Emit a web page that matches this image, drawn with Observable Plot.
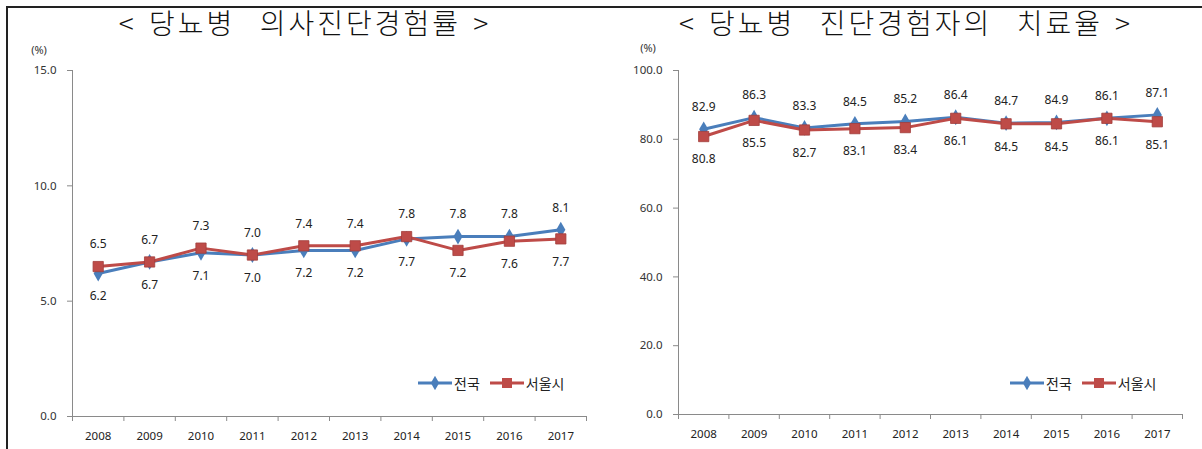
<!DOCTYPE html>
<html>
<head>
<meta charset="utf-8">
<script src="https://cdn.jsdelivr.net/npm/d3@7"></script>
<script src="https://cdn.jsdelivr.net/npm/@observablehq/plot@0.6"></script>
<style>
  html, body { margin: 0; padding: 0; background: #fff; }
  #page { position: relative; width: 1202px; height: 449px; overflow: hidden; font-family: "Noto Sans CJK KR", "Noto Sans", sans-serif; }
  #frame { position: absolute; left: 6px; top: 6px; width: 1200px; height: 450px; border-top: 2px solid #222; border-left: 2px solid #222; box-sizing: border-box; pointer-events: none; }
  .title { position: absolute; top: 2px; transform: translateX(-50%); font-size: 28px; font-weight: 300; letter-spacing: 3px; word-spacing: 3px; color: #111; white-space: pre; font-family: "Noto Sans CJK KR", sans-serif; line-height: 40px; }
  .unit { position: absolute; font-size: 11px; color: #333; transform: translateX(-50%); font-family: "Noto Sans", sans-serif; }
  .panel { position: absolute; top: 0; }
  .legend { position: absolute; display: flex; align-items: center; font-size: 14px; color: #222; font-family: "Noto Sans CJK KR", sans-serif; }
  .legend svg { display: block; margin-right: 2px; }
  .legend span { margin-right: 10px; }
</style>
</head>
<body>
<div id="page">
  <div class="panel" id="left" style="left:0px"></div>
  <div class="panel" id="right" style="left:600px"></div>
  <div class="title" style="left:305px">&lt; 당뇨병  의사진단경험률 &gt;</div>
  <div class="title" style="left:906px">&lt; 당뇨병  진단경험자의  치료율 &gt;</div>
  <div class="unit" style="left:39px; top:42px">(%)</div>
  <div class="unit" style="left:648px; top:40px">(%)</div>
  <div class="legend" id="legL" style="left:418px; top:373px"></div>
  <div class="legend" id="legR" style="left:1010px; top:373px"></div>
  <div id="frame"></div>
</div>
<script>
const years = [2008, 2009, 2010, 2011, 2012, 2013, 2014, 2015, 2016, 2017];
const seriesNames = ["전국", "서울시"];
const seriesColors = ["#4A7EBB", "#BE4B48"];

// 당뇨병 의사진단경험률
const diagNational = [6.2, 6.7, 7.1, 7.0, 7.2, 7.2, 7.7, 7.8, 7.8, 8.1];
const diagSeoul    = [6.5, 6.7, 7.3, 7.0, 7.4, 7.4, 7.8, 7.2, 7.6, 7.7];
const diagTicks    = [0, 5, 10, 15];

// 당뇨병 진단경험자의 치료율
const treatNational = [82.9, 86.3, 83.3, 84.5, 85.2, 86.4, 84.7, 84.9, 86.1, 87.1];
const treatSeoul    = [80.8, 85.5, 82.7, 83.1, 83.4, 86.1, 84.5, 84.5, 86.1, 85.1];
const treatTicks    = [0, 20, 40, 60, 80, 100];

function makeChart(nat, seoul, yTicks, opts) {
  const rows = [];
  years.forEach((yr, i) => {
    rows.push({year: yr, value: nat[i], series: seriesNames[0], above: nat[i] >= seoul[i]});
  });
  years.forEach((yr, i) => {
    rows.push({year: yr, value: seoul[i], series: seriesNames[1], above: seoul[i] > nat[i]});
  });
  const natRows = rows.filter(d => d.series === seriesNames[0]);
  const seoulRows = rows.filter(d => d.series === seriesNames[1]);
  const lo = years[0] - 0.5, hi = years[years.length - 1] + 0.5;
  const bounds = years.map(y => y - 0.5).concat([hi]);
  const yMax = yTicks[yTicks.length - 1];
  return Plot.plot({
    width: opts.width,
    height: 449,
    marginLeft: opts.ml,
    marginRight: opts.mr,
    marginTop: 70,
    marginBottom: opts.mb,
    style: {color: "#333", fontFamily: "'Noto Sans', sans-serif", background: "transparent", overflow: "visible"},
    x: {type: "linear", domain: [lo, hi], axis: null},
    y: {domain: [0, yMax], axis: null},
    color: {domain: seriesNames, range: seriesColors},
    marks: [
      Plot.axisY({ticks: yTicks, tickFormat: d => d.toFixed(1), tickSize: 5, tickPadding: 11, fontSize: 11.5, stroke: "#8a8a8a", label: null}),
      Plot.axisX({ticks: bounds, tickSize: 5, tickFormat: () => "", stroke: "#8a8a8a", label: null}),
      Plot.axisX({ticks: years, tickSize: 0, tickPadding: 15, tickFormat: d => String(d), fontSize: 11.5, fill: "#222", label: null}),
      Plot.ruleY([0], {stroke: "#8a8a8a", strokeWidth: 1}),
      Plot.ruleX([lo], {stroke: "#8a8a8a", strokeWidth: 1}),
      Plot.line(natRows, {x: "year", y: "value", stroke: "series", strokeWidth: 3}),
      Plot.dot(natRows, {x: "year", y: "value", fill: "series", symbol: "diamond", r: 4.8}),
      Plot.line(seoulRows, {x: "year", y: "value", stroke: "series", strokeWidth: 3}),
      Plot.dot(seoulRows, {x: "year", y: "value", fill: "series", stroke: "#A23E3B", strokeWidth: 0.8, symbol: "square", r: 5.8}),
      Plot.text(rows.filter(d => d.above), {x: "year", y: "value", text: d => d.value.toFixed(1), dy: -22, fontSize: 12, fill: "#222"}),
      Plot.text(rows.filter(d => !d.above), {x: "year", y: "value", text: d => d.value.toFixed(1), dy: 23, fontSize: 12, fill: "#222"})
    ]
  });
}

document.getElementById("left").appendChild(
  makeChart(diagNational, diagSeoul, diagTicks, {width: 600, ml: 72, mr: 14, mb: 33})
);
document.getElementById("right").appendChild(
  makeChart(treatNational, treatSeoul, treatTicks, {width: 602, ml: 78, mr: 20, mb: 35})
);

function legend(el) {
  const node = document.getElementById(el);
  seriesNames.forEach((name, i) => {
    const s = d3.create("svg").attr("width", 34).attr("height", 14);
    s.append("line").attr("x1", 0).attr("x2", 34).attr("y1", 7).attr("y2", 7)
      .attr("stroke", seriesColors[i]).attr("stroke-width", 3);
    if (i === 0) {
      s.append("path").attr("d", d3.symbol(d3.symbolDiamond, 60)()).attr("transform", "translate(17,7)").attr("fill", seriesColors[i]);
    } else {
      s.append("rect").attr("x", 12).attr("y", 2).attr("width", 10).attr("height", 10).attr("fill", seriesColors[i]);
    }
    node.appendChild(s.node());
    const t = document.createElement("span");
    t.textContent = name;
    node.appendChild(t);
  });
}
legend("legL");
legend("legR");
</script>
</body>
</html>
